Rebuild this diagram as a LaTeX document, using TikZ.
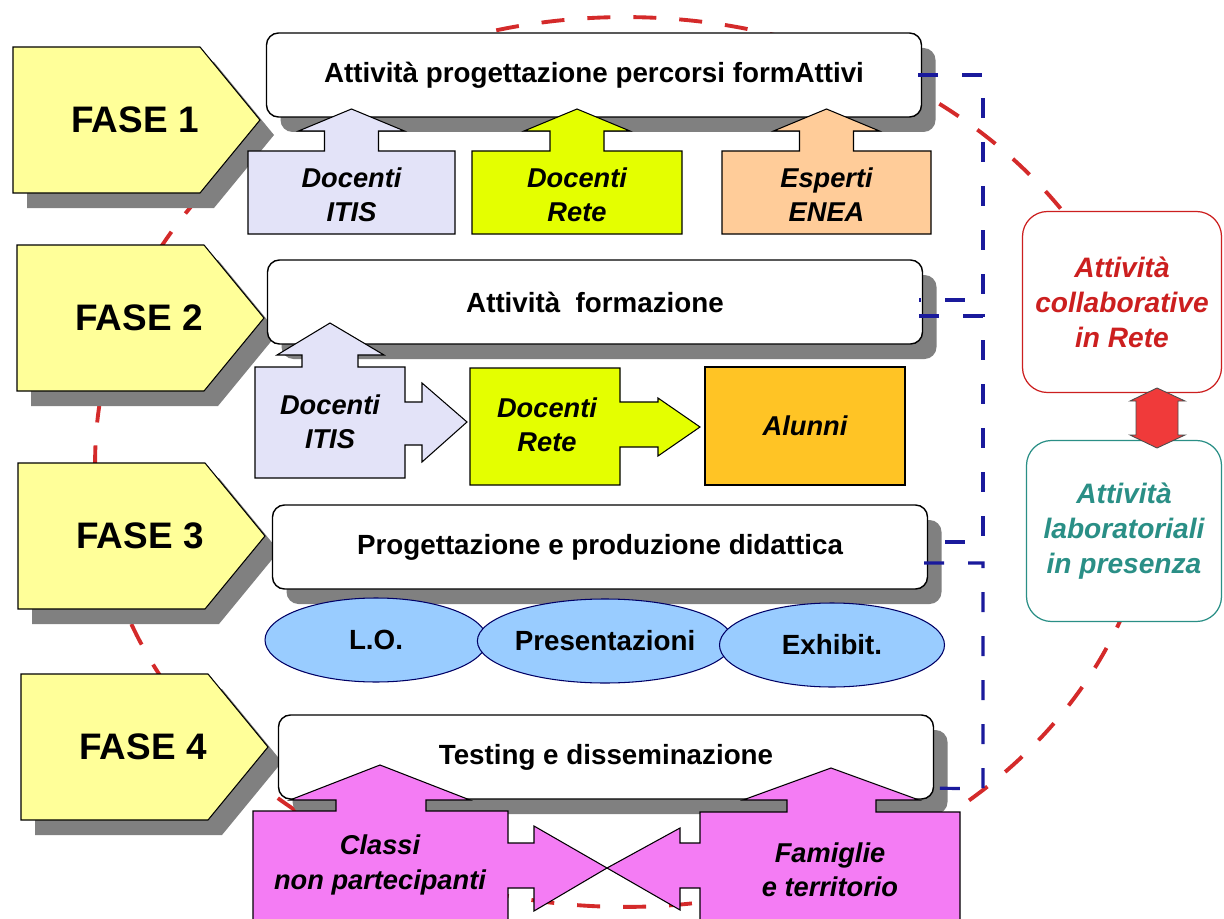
\documentclass[tikz,border=0pt]{standalone}
\usepackage{fontspec}
\setmainfont{Liberation Sans}
\usepackage{tikz}
\usetikzlibrary{shapes.geometric, shadows}
\def\unitpx{0.02cm}
\def\boxfont{\fontsize{15.8}{19}\selectfont\bfseries}
\def\phasefont{\fontsize{21}{25}\selectfont\bfseries}
\def\actorfont{\fontsize{15.5}{19.5}\selectfont\bfseries\itshape}
\def\sidefont{\fontsize{16}{20}\selectfont\bfseries\itshape}
\definecolor{faseyellow}{HTML}{FFFF99}
\definecolor{itislavender}{HTML}{E3E3F8}
\definecolor{retelime}{HTML}{E4FF00}
\definecolor{eneapeach}{HTML}{FFCC99}
\definecolor{alunniorange}{HTML}{FFC425}
\definecolor{publicpink}{HTML}{F47CF4}
\definecolor{productblue}{HTML}{99CCFF}
\definecolor{netred}{HTML}{CC1F1F}
\definecolor{labteal}{HTML}{2A8F86}
\definecolor{ringred}{HTML}{D42A2A}
\definecolor{linkblue}{HTML}{1A1A9C}
\definecolor{swapred}{HTML}{F03A3A}

\begin{document}
\begin{tikzpicture}[x=\unitpx, y=-\unitpx]
    \tikzstyle{shadowed}=[drop shadow={shadow xshift=14*\unitpx, shadow yshift=-15*\unitpx, opacity=1, fill=black!50}]
    \tikzstyle{phase}=[draw=black, line width=0.6pt, fill=faseyellow, shadowed]
    \tikzstyle{phase text}=[font=\phasefont]
    \tikzstyle{task}=[rectangle, draw=black, line width=0.8pt, fill=white, rounded corners=0.24cm, minimum width=655*\unitpx, minimum height=84*\unitpx, font=\boxfont, shadowed]
    \tikzstyle{product}=[ellipse, draw=black!60!blue, line width=0.6pt, fill=productblue, minimum height=84*\unitpx, inner sep=0pt, font=\boxfont]
    \tikzstyle{actor}=[draw=black, line width=0.6pt]
    \tikzstyle{actor text}=[align=center, font=\actorfont]
    \tikzstyle{link}=[draw=linkblue, line width=1.8pt, dash pattern=on 0.4cm off 0.48cm]
    \tikzstyle{ring}=[draw=ringred, line width=2.2pt, dash pattern=on 0.46cm off 0.46cm]
    \tikzstyle{side box}=[rectangle, line width=0.7pt, fill=white, rounded corners=0.5cm, minimum height=181*\unitpx, align=center, font=\sidefont]

    \path[use as bounding box, fill=white] (0,0) rectangle (1224,919);

    % Draw the dashed ring behind everything
    \draw[ring] (625,462) ellipse [x radius=10.6cm, y radius=8.9cm];

    % Draw the phase pentagons
    \foreach \n / \x / \y in {1/13/120, 2/17/318, 3/18/536, 4/21/747} {
        \filldraw[phase] (\x,\y-73) -- (\x+187,\y-73) -- (\x+247,\y) -- (\x+187,\y+73) -- (\x,\y+73) -- cycle;
        \node[phase text] (F-\n) at (\x+122,\y) {FASE \n};
    }

    % Draw the activity boxes
    \foreach \name / \x / \y / \txt in {1/594/75/{Attività progettazione percorsi formAttivi},
                                       2/595/302/{Attività \ formazione},
                                       3/600/547/{Progettazione e produzione didattica},
                                       4/606/757/{Testing e disseminazione}}
        \node[task] (B-\name) at (\x,\y) {\txt};

    % Draw the products of phase 3
    \foreach \name / \x / \y / \w / \txt in {1/376/640/222/L.O., 2/605/641/230/Presentazioni, 3/832/645/225/Exhibit.}
        \node[product, minimum width=\w*\unitpx] (E-\name) at (\x,\y) {\txt};

    % Draw the actors of phase 1
    \foreach \name / \xl / \xr / \col / \lineA / \lineB in {1/248/455/itislavender/Docenti/ITIS,
                                                         2/472/682/retelime/Docenti/Rete,
                                                         3/722/931/eneapeach/Esperti/ENEA} {
        \pgfmathsetmacro{\cx}{(\xl+\xr)/2}
        \filldraw[actor, fill=\col] (\xl,151) -- (\cx-27,151) -- (\cx-27,131) -- (\cx-53,131) -- (\cx,109)
            -- (\cx+53,131) -- (\cx+27,131) -- (\cx+27,151) -- (\xr,151) -- (\xr,234) -- (\xl,234) -- cycle;
        \node[actor text] (P1-\name) at (\cx,195) {\lineA\\\lineB};
    }

    % Draw the actors of phase 2
    \filldraw[actor, fill=itislavender] (255,367) -- (302,367) -- (302,355) -- (277,355) -- (330,323) -- (384,355)
        -- (358,355) -- (358,367) -- (405,367) -- (405,402) -- (422,402) -- (422,383) -- (467,422) -- (422,462)
        -- (422,445) -- (405,445) -- (405,478) -- (255,478) -- cycle;
    \node[actor text] (P2-1) at (330,422) {Docenti\\ITIS};
    \filldraw[actor, fill=retelime] (470,368) -- (620,368) -- (620,402) -- (658,402) -- (658,398) -- (700,427)
        -- (658,456) -- (658,447) -- (620,447) -- (620,485) -- (470,485) -- cycle;
    \node[actor text] (P2-2) at (547,425) {Docenti\\Rete};
    \node[rectangle, draw=black, line width=0.6pt, fill=alunniorange, minimum width=200*\unitpx,
          minimum height=118*\unitpx, font=\actorfont] (P2-3) at (805,426) {Alunni};

    % Draw the actors of phase 4
    \filldraw[actor, fill=publicpink] (253,925) -- (253,811) -- (336,811) -- (336,800) -- (290,800) -- (380,765)
        -- (470,800) -- (426,800) -- (426,811) -- (508,811) -- (508,843) -- (534,843) -- (534,826) -- (607,868)
        -- (534,911) -- (534,888) -- (508,888) -- (508,925) -- cycle;
    \filldraw[actor, fill=publicpink] (960,925) -- (960,812) -- (876,812) -- (876,800) -- (919,800) -- (831,768)
        -- (743,800) -- (787,800) -- (787,812) -- (700,812) -- (700,843) -- (680,843) -- (680,828) -- (607,868)
        -- (680,910) -- (680,888) -- (700,888) -- (700,925) -- cycle;
    \node[actor text] (P4-1) at (380,865) {Classi\\non partecipanti};
    \node[actor text] (P4-2) at (830,870) {Famiglie\\e territorio};

    % Draw the dashed links between the phases
    \draw[link] ([xshift=-4*\unitpx]B-1.east) -| (983,300) -- ([xshift=-4*\unitpx, yshift=2*\unitpx]B-2.east);
    \draw[link] ([xshift=-4*\unitpx, yshift=-14*\unitpx]B-2.east) -| (983,542) -- ([xshift=-4*\unitpx, yshift=5*\unitpx]B-3.east);
    \draw[link] ([xshift=-4*\unitpx, yshift=-16*\unitpx]B-3.east) -| (983,789) -- ([xshift=-4*\unitpx, yshift=-31*\unitpx]B-4.east);

    % Draw the two kinds of activity
    \node[side box, draw=netred, text=netred, minimum width=199*\unitpx] (N-1) at (1122,302) {Attività\\collaborative\\in Rete};
    \node[side box, draw=labteal, text=labteal, minimum width=195*\unitpx] (N-2) at (1124,531) {Attività\\laboratoriali\\in presenza};
    \filldraw[draw=black!70, line width=0.5pt, fill=swapred] (1157,388) -- (1185,401) -- (1178,401) -- (1178,435)
        -- (1185,435) -- (1157,448) -- (1130,435) -- (1136,435) -- (1136,401) -- (1130,401) -- cycle;
\end{tikzpicture}
\end{document}
